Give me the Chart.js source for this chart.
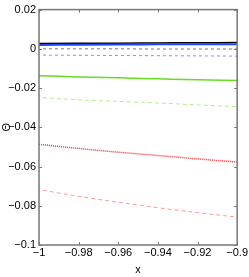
<!DOCTYPE html>
<html><head><meta charset="utf-8">
<script src="https://cdn.jsdelivr.net/npm/chart.js@4"></script>
<style>html,body{margin:0;padding:0;background:#fff}#wrap{width:249px;height:277px}</style>
</head><body><div id="wrap"><canvas id="c" width="249" height="277"></canvas></div>
<script>
const xSolid = [-1, -0.98, -0.96, -0.94, -0.92, -0.9];
const xDashed = [-0.998, -0.98, -0.96, -0.94, -0.92, -0.9];
const blackSolid = [0.0027, 0.0028, 0.0029, 0.0030, 0.0031, 0.0032];
const blueSolid = [0.0020, 0.0021, 0.0022, 0.0023, 0.0024, 0.0024];
const grayDashed = [0.0000, 0.0000, 0.0000, -0.0001, -0.0001, -0.0001];
const blueDashed = [-0.0032, -0.0033, -0.0034, -0.0035, -0.0036, -0.0037];
const greenSolid = [-0.0137, -0.0143, -0.0148, -0.0153, -0.0158, -0.0162];
const greenDashed = [-0.0249, -0.0260, -0.0268, -0.0276, -0.0286, -0.0295];
const redDotted = [-0.0487, -0.0508, -0.0527, -0.0544, -0.0561, -0.0577];
const redDashed = [-0.0721, -0.0752, -0.0782, -0.0810, -0.0835, -0.0858];
const xTicks = [-1, -0.98, -0.96, -0.94, -0.92, -0.9];
const xTickLabels = ['\u22121', '\u22120.98', '\u22120.96', '\u22120.94', '\u22120.92', '\u22120.9'];
const yTicks = [0.02, 0, -0.02, -0.04, -0.06, -0.08, -0.1];
const yTickLabels = ['0.02', '0', '\u22120.02', '\u22120.04', '\u22120.06', '\u22120.08', '\u22120.1'];

function pts(xs, ys){ return xs.map((x,i)=>({x:x, y:ys[i]})); }
function ds(xs, ys, color, width, dash){
  return {data: pts(xs, ys), borderColor: color, borderWidth: width, borderDash: dash,
    pointRadius: 0, fill: false, tension: 0.3, cubicInterpolationMode: 'monotone'};
}
const FONT = {family: '"Liberation Sans Narrow","Liberation Sans",Arial,sans-serif', size: 11};

const frame = {
  id: 'frame',
  afterDraw(chart){
    const {ctx, chartArea: a, scales} = chart;
    ctx.save();
    ctx.strokeStyle = '#777';
    ctx.lineWidth = 1.5;
    ctx.strokeRect(a.left, a.top, a.right - a.left, a.bottom - a.top);
    ctx.lineWidth = 1;
    ctx.beginPath();
    xTicks.forEach(v => {
      const p = Math.round(scales.x.getPixelForValue(v)) + 0.5;
      ctx.moveTo(p, a.top); ctx.lineTo(p, a.top + 3);
      ctx.moveTo(p, a.bottom); ctx.lineTo(p, a.bottom - 3);
    });
    yTicks.forEach(v => {
      const p = Math.round(scales.y.getPixelForValue(v)) + 0.5;
      ctx.moveTo(a.left, p); ctx.lineTo(a.left + 3, p);
      ctx.moveTo(a.right, p); ctx.lineTo(a.right - 3, p);
    });
    ctx.stroke();
    ctx.restore();
  }
};

new Chart(document.getElementById('c'), {
  type: 'line',
  data: { datasets: [
    ds(xDashed, redDashed, '#ff9a9a', 1, [4,3]),
    ds(xSolid, redDotted, '#f03030', 1.5, [1,1]),
    ds(xDashed, greenDashed, '#b4ee88', 1, [4,3]),
    ds(xSolid, greenSolid, '#66dd22', 1.5, []),
    ds(xDashed, blueDashed, '#8090ff', 1, [3,3]),
    ds(xDashed, grayDashed, '#777777', 1, [3,3]),
    ds(xSolid, blueSolid, '#2244ff', 2, []),
    ds(xSolid, blackSolid, '#000000', 1.5, [])
  ]},
  options: {
    responsive: false, animation: false, devicePixelRatio: 1,
    layout: { padding: { top: 9, right: 8, left: 0, bottom: 0 } },
    plugins: { legend: { display: false }, tooltip: { enabled: false } },
    scales: {
      x: { type: 'linear', min: -1, max: -0.9,
        afterBuildTicks(s){ s.ticks = xTicks.map(v => ({value: v})); },
        afterFit(s){ s.height = 32; },
        ticks: { font: FONT, color: '#000', padding: 1, maxRotation: 0, autoSkip: false,
          callback(v){ const i = xTicks.findIndex(t => Math.abs(t - v) < 1e-9); return i >= 0 ? xTickLabels[i] : ''; } },
        grid: { display: false, drawTicks: false }, border: { display: false },
        title: { display: true, text: 'x', font: FONT, color: '#000', padding: { top: 0, bottom: 0 } }
      },
      y: { type: 'linear', min: -0.1, max: 0.02,
        afterBuildTicks(s){ s.ticks = yTicks.map(v => ({value: v})); },
        afterFit(s){ s.width = 39; },
        ticks: { font: FONT, color: '#000', padding: 3, autoSkip: false,
          callback(v){ const i = yTicks.findIndex(t => Math.abs(t - v) < 1e-9); return i >= 0 ? yTickLabels[i] : ''; } },
        grid: { display: false, drawTicks: false }, border: { display: false },
        title: { display: true, text: '\u0398', font: FONT, color: '#000', padding: { top: 0, bottom: 0 } }
      }
    }
  },
  plugins: [frame]
});
</script></body></html>
